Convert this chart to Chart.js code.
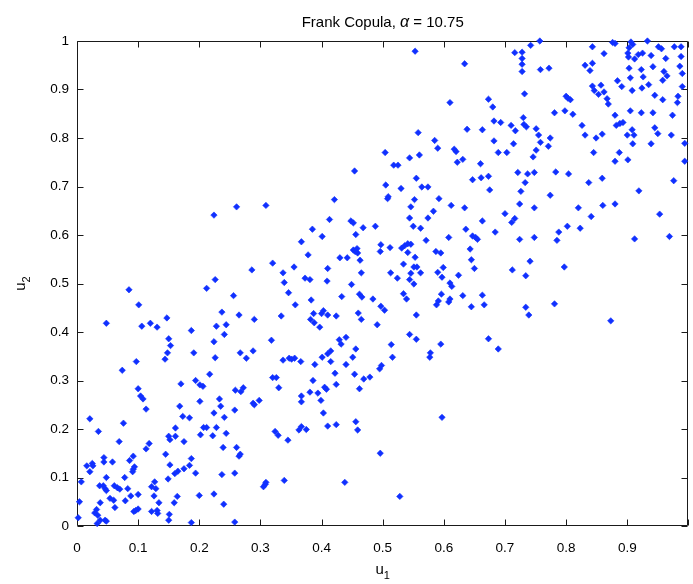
<!DOCTYPE html>
<html>
<head>
<meta charset="utf-8">
<script src="https://cdn.jsdelivr.net/npm/chart.js@4"></script>
<style>
  html, body { margin: 0; padding: 0; background: #fff; overflow: hidden; }
</style>
</head>
<body>
<canvas id="copulaChart" width="693" height="584"></canvas>
<script>
// Samples (u1, u2) from a Frank copula, alpha = 10.75
var u1 = [
  // lower left
  0.097,0.144,0.226,0.074,0.217,0.194,0.170,0.201,0.206,0.100,
  0.104,0.108,0.233,0.201,0.168,0.235,0.113,0.224,0.173,0.184,
  0.241,0.021,0.076,0.035,0.161,0.207,0.212,0.228,0.244,0.202,
  0.222,0.150,0.152,0.161,0.069,0.175,0.118,0.113,0.239,0.092,
  0.086,0.044,0.044,0.058,0.145,0.187,0.025,0.016,0.026,0.152,
  0.184,0.175,0.094,0.092,0.091,0.021,0.165,0.160,0.194,0.237,
  0.048,0.078,0.149,0.007,0.127,0.037,0.043,0.046,0.048,0.061,
  0.066,0.070,0.083,0.122,0.129,0.088,0.054,0.060,0.079,0.126,
  0.100,0.164,0.200,0.224,0.004,0.038,0.134,0.159,0.240,0.062,
  0.032,0.029,0.034,0.038,0.033,0.046,0.048,0.093,0.100,0.096,
  0.122,0.131,0.132,0.151,0.150,0.187,0.002,
  0.277,0.337,0.347,0.356,0.351,0.366,0.389,0.401,0.415,0.440,
  0.451,0.495,0.422,0.454,0.320,0.326,0.386,0.469,0.479,0.424,
  0.330,0.405,0.408,0.462,0.259,0.268,0.272,0.381,0.394,0.367,
  0.298,0.288,0.290,0.367,0.399,0.258,0.403,0.410,0.424,0.456,
  0.459,0.367,0.363,0.375,0.324,0.329,0.345,0.261,0.267,0.265,
  0.496,0.258,0.308,0.305,0.309,0.339,0.438,0.258,
  0.516,0.498,0.597,0.528,0.577,
  // middle band
  0.224,0.226,0.212,0.085,0.101,0.237,0.048,0.106,0.120,0.131,
  0.147,0.187,0.228,0.244,0.241,0.150,0.153,0.224,0.148,0.191,
  0.261,0.309,0.421,0.413,0.448,0.452,0.385,0.401,0.468,0.488,
  0.367,0.456,0.378,0.452,0.458,0.459,0.455,0.463,0.496,0.497,
  0.430,0.442,0.320,0.286,0.337,0.355,0.410,0.465,0.373,0.381,
  0.409,0.339,0.449,0.256,0.346,0.462,0.466,0.433,0.484,0.383,
  0.357,0.497,0.265,0.290,0.334,0.387,0.403,0.400,0.410,0.424,
  0.460,0.465,0.382,0.388,0.397,0.491,0.318,0.429,0.432,0.440,
  0.456,0.267,0.288,0.415,0.410,
  0.508,0.552,0.592,0.546,0.612,0.634,0.583,0.724,0.748,0.700,
  0.716,0.711,0.663,0.544,0.574,0.550,0.562,0.636,0.684,0.608,
  0.647,0.652,0.655,0.724,0.748,0.571,0.512,0.531,0.536,0.541,
  0.546,0.541,0.587,0.595,0.643,0.553,0.645,0.534,0.551,0.556,
  0.599,0.650,0.741,0.712,0.734,0.513,0.546,0.562,0.590,0.597,
  0.624,0.524,0.544,0.551,0.610,0.613,0.534,0.539,0.596,0.631,
  0.663,0.610,0.608,0.591,0.588,0.666,0.645,0.734,0.739,0.503,
  0.555,0.544,0.555,0.514,0.595,0.673,0.689,0.578,
  0.820,0.860,0.880,0.841,0.953,0.802,0.823,0.788,0.785,0.912,
  0.969,0.797,0.781,0.873,
  // upper right
  0.454,
  0.553,0.634,0.716,0.728,0.728,0.728,0.728,0.742,0.732,0.610,
  0.673,0.680,0.558,0.638,0.663,0.682,0.693,0.710,0.717,0.730,
  0.731,0.735,0.751,0.585,0.590,0.682,0.714,0.504,0.560,0.544,
  0.617,0.620,0.689,0.703,0.751,0.746,0.518,0.525,0.622,0.631,
  0.660,0.505,0.509,0.530,0.555,0.564,0.574,0.647,0.661,0.673,
  0.675,0.721,0.737,0.748,0.733,0.726,
  0.757,0.843,0.862,0.876,0.880,0.906,0.909,0.903,0.901,0.902,
  0.912,0.918,0.925,0.933,0.951,0.956,0.977,0.988,0.939,0.963,
  0.988,0.831,0.843,0.839,0.758,0.772,0.903,0.923,0.942,0.986,
  0.960,0.965,0.958,0.905,0.926,0.990,0.884,0.891,0.843,0.846,
  0.853,0.857,0.862,0.908,0.924,0.935,0.990,0.800,0.803,0.807,
  0.867,0.869,0.945,0.958,0.983,0.982,0.781,0.798,0.811,0.905,
  0.923,0.942,0.974,0.880,0.826,0.882,0.888,0.893,0.908,0.945,
  0.950,0.755,0.774,0.758,0.771,0.831,0.849,0.859,0.900,0.911,
  0.909,0.939,0.972,0.994,0.845,0.887,0.880,0.901,0.994,0.783,
  0.804,0.837,0.859,0.976,0.774,0.919
];

var u2 = [
  // lower left
  0.339,0.344,0.347,0.321,0.313,0.300,0.293,0.291,0.288,0.283,
  0.268,0.262,0.262,0.257,0.247,0.247,0.241,0.233,0.226,0.223,
  0.224,0.221,0.212,0.195,0.202,0.203,0.203,0.203,0.191,0.188,
  0.186,0.185,0.178,0.185,0.174,0.174,0.170,0.159,0.162,0.144,
  0.135,0.141,0.132,0.132,0.148,0.139,0.129,0.124,0.124,0.126,
  0.125,0.118,0.122,0.117,0.112,0.112,0.113,0.108,0.109,0.106,
  0.100,0.100,0.097,0.091,0.091,0.083,0.083,0.077,0.073,0.083,
  0.079,0.076,0.077,0.081,0.077,0.062,0.057,0.053,0.052,0.062,
  0.065,0.061,0.063,0.066,0.050,0.048,0.048,0.048,0.045,0.038,
  0.034,0.027,0.022,0.012,0.005,0.012,0.010,0.030,0.035,0.032,
  0.030,0.032,0.026,0.024,0.012,0.007,0.017,
  0.346,0.342,0.346,0.346,0.344,0.339,0.333,0.348,0.339,0.333,
  0.348,0.324,0.315,0.313,0.306,0.306,0.300,0.303,0.307,0.292,
  0.285,0.286,0.282,0.283,0.280,0.277,0.285,0.276,0.274,0.268,
  0.259,0.253,0.250,0.256,0.259,0.239,0.233,0.206,0.209,0.215,
  0.198,0.205,0.198,0.199,0.195,0.187,0.177,0.162,0.148,0.144,
  0.150,0.109,0.086,0.081,0.090,0.094,0.090,0.008,
  0.348,0.331,0.224,0.061,0.348,
  // middle band
  0.641,0.508,0.490,0.487,0.456,0.441,0.418,0.412,0.418,0.410,
  0.429,0.403,0.412,0.415,0.395,0.386,0.372,0.380,0.357,0.357,
  0.658,0.661,0.673,0.632,0.629,0.625,0.612,0.597,0.615,0.618,
  0.586,0.601,0.559,0.569,0.572,0.563,0.566,0.548,0.566,0.580,
  0.553,0.553,0.542,0.528,0.522,0.534,0.531,0.522,0.511,0.508,
  0.505,0.502,0.498,0.475,0.481,0.478,0.472,0.473,0.468,0.466,
  0.456,0.453,0.435,0.426,0.433,0.438,0.444,0.438,0.435,0.433,
  0.439,0.426,0.426,0.419,0.410,0.415,0.383,0.384,0.375,0.389,
  0.365,0.357,0.361,0.361,0.355,
  0.675,0.673,0.675,0.658,0.661,0.656,0.649,0.664,0.656,0.644,
  0.634,0.626,0.629,0.635,0.635,0.618,0.614,0.612,0.606,0.595,
  0.598,0.595,0.591,0.591,0.595,0.589,0.574,0.573,0.578,0.582,
  0.581,0.564,0.566,0.563,0.571,0.554,0.549,0.540,0.534,0.534,
  0.533,0.531,0.546,0.528,0.516,0.522,0.521,0.522,0.523,0.513,
  0.517,0.511,0.508,0.499,0.501,0.494,0.479,0.468,0.478,0.475,
  0.476,0.468,0.462,0.464,0.456,0.456,0.452,0.451,0.435,0.445,
  0.435,0.395,0.385,0.374,0.375,0.386,0.365,0.357,
  0.656,0.661,0.664,0.638,0.643,0.618,0.614,0.606,0.589,0.592,
  0.597,0.534,0.458,0.423,
  // upper right
  0.732,
  0.979,0.953,0.976,0.977,0.964,0.952,0.937,0.991,0.891,0.873,
  0.880,0.864,0.811,0.818,0.817,0.835,0.832,0.826,0.815,0.842,
  0.828,0.823,0.819,0.795,0.779,0.794,0.788,0.770,0.765,0.759,
  0.777,0.772,0.770,0.770,0.775,0.761,0.744,0.744,0.750,0.756,
  0.747,0.703,0.679,0.696,0.717,0.699,0.699,0.714,0.718,0.721,
  0.693,0.729,0.726,0.729,0.708,0.690,
  1.000,0.988,0.974,0.997,0.995,0.998,0.993,0.986,0.975,0.967,
  0.963,0.972,0.975,1.000,0.988,0.984,0.988,0.988,0.970,0.964,
  0.968,0.950,0.954,0.939,0.941,0.944,0.944,0.941,0.947,0.948,
  0.937,0.928,0.919,0.924,0.926,0.933,0.918,0.906,0.907,0.898,
  0.890,0.909,0.895,0.898,0.903,0.910,0.906,0.886,0.882,0.879,
  0.881,0.870,0.888,0.879,0.886,0.873,0.852,0.856,0.849,0.856,
  0.852,0.852,0.847,0.847,0.826,0.826,0.830,0.832,0.817,0.821,
  0.809,0.806,0.800,0.791,0.783,0.806,0.800,0.808,0.806,0.806,
  0.788,0.788,0.806,0.789,0.770,0.770,0.752,0.755,0.752,0.730,
  0.726,0.708,0.717,0.712,0.682,0.691
];

var xTicks = [0, 0.1, 0.2, 0.3, 0.4, 0.5, 0.6, 0.7, 0.8, 0.9, 1];
var yTicks = [0, 0.1, 0.2, 0.3, 0.4, 0.5, 0.6, 0.7, 0.8, 0.9, 1];
var alpha = 10.75;

var FONT = "'Liberation Sans', Arial, Helvetica, sans-serif";

function fmtTick(v) {
  return String(Math.round(v * 10) / 10);
}

// axes box with inward tick marks on all four sides, plus title and axis labels
var matlabAxes = {
  id: 'matlabAxes',
  beforeDatasetsDraw: function(chart) {
    var ctx = chart.ctx, a = chart.chartArea;
    var xs = chart.scales.x, ys = chart.scales.y;
    var L = Math.round(a.left) + 0.5, R = Math.round(a.right) - 0.5;
    var T = Math.round(a.top) + 0.5, B = Math.round(a.bottom) - 0.5;
    var len = 6;
    ctx.save();
    ctx.strokeStyle = '#1a1a1a';
    ctx.lineWidth = 1;
    ctx.beginPath();
    ctx.rect(L, T, R - L, B - T);
    xTicks.forEach(function(v) {
      var px = Math.round(xs.getPixelForValue(v)) + 0.5;
      ctx.moveTo(px, B); ctx.lineTo(px, B - len);
      ctx.moveTo(px, T); ctx.lineTo(px, T + len);
    });
    yTicks.forEach(function(v) {
      var py = Math.round(ys.getPixelForValue(v)) + 0.5;
      ctx.moveTo(L, py); ctx.lineTo(L + len, py);
      ctx.moveTo(R, py); ctx.lineTo(R - len, py);
    });
    ctx.stroke();
    ctx.restore();
  },
  afterDraw: function(chart) {
    var ctx = chart.ctx, a = chart.chartArea;
    var cx = (a.left + a.right) / 2;
    ctx.save();
    ctx.fillStyle = '#000';
    ctx.textBaseline = 'alphabetic';

    // title: "Frank Copula, α = 10.75" with an italic alpha
    var parts = [
      { t: 'Frank Copula, ', f: '15px ' + FONT },
      { t: '\u03b1', f: 'italic 16px ' + FONT },
      { t: ' = ' + alpha, f: '15px ' + FONT }
    ];
    var total = 0;
    parts.forEach(function(p) { ctx.font = p.f; p.w = ctx.measureText(p.t).width; total += p.w; });
    var x = cx - total / 2;
    ctx.textAlign = 'left';
    parts.forEach(function(p) { ctx.font = p.f; ctx.fillText(p.t, x, 27); x += p.w; });

    // x label u1
    ctx.font = '15px ' + FONT;
    var wu = ctx.measureText('u').width;
    ctx.font = '11px ' + FONT;
    var w1 = ctx.measureText('1').width;
    var sx = cx - (wu + w1) / 2;
    ctx.font = '15px ' + FONT;
    ctx.fillText('u', sx, 574);
    ctx.font = '11px ' + FONT;
    ctx.fillText('1', sx + wu, 579);

    // y label u2, rotated
    ctx.translate(25, (a.top + a.bottom) / 2);
    ctx.rotate(-Math.PI / 2);
    ctx.font = '15px ' + FONT;
    sx = -(wu + w1) / 2;
    ctx.fillText('u', sx, 0);
    ctx.font = '11px ' + FONT;
    ctx.fillText('2', sx + wu, 5);
    ctx.restore();
  }
};

var points = u1.map(function(v, i) { return { x: v, y: u2[i] }; });

new Chart(document.getElementById('copulaChart'), {
  type: 'scatter',
  data: {
    datasets: [{
      data: points,
      pointStyle: 'rectRot',
      pointRadius: 3.2,
      pointBorderWidth: 0.6,
      backgroundColor: '#1030ff',
      borderColor: '#1030ff',
      clip: false
    }]
  },
  options: {
    responsive: false,
    animation: false,
    events: [],
    // the axes run a few pixels past the right edge of the canvas
    layout: { padding: { top: 41, right: -4, bottom: 0, left: 0 } },
    plugins: { legend: { display: false }, tooltip: { enabled: false } },
    scales: {
      x: {
        type: 'linear',
        min: 0,
        max: 1,
        grid: { display: false, drawTicks: false },
        border: { display: false },
        afterBuildTicks: function(s) { s.ticks = xTicks.slice(0, -1).map(function(v) { return { value: v }; }); },
        afterFit: function(s) { s.height = 58; },
        ticks: {
          color: '#000',
          font: { size: 13.5, family: FONT },
          padding: 14,
          maxRotation: 0,
          callback: fmtTick
        }
      },
      y: {
        type: 'linear',
        min: 0,
        max: 1,
        grid: { display: false, drawTicks: false },
        border: { display: false },
        afterBuildTicks: function(s) { s.ticks = yTicks.map(function(v) { return { value: v }; }); },
        afterFit: function(s) { s.width = 77; },
        ticks: {
          color: '#000',
          font: { size: 13.5, family: FONT },
          padding: 8,
          callback: fmtTick
        }
      }
    }
  },
  plugins: [matlabAxes]
});
</script>
</body>
</html>
